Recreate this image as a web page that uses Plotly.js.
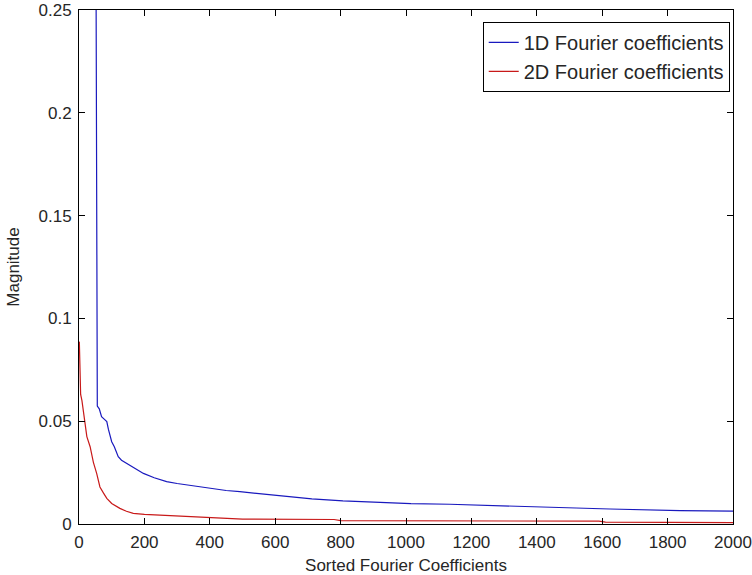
<!DOCTYPE html>
<html>
<head>
<meta charset="utf-8">
<script src="https://cdn.plot.ly/plotly-3.0.1.min.js"></script>
<style>html,body{margin:0;padding:0;background:#fff;}#chart{width:752px;height:575px;}</style>
</head>
<body>
<div id="chart"></div>
<script>
// 1D Fourier coefficients (sorted magnitudes)
const x1D = [1, 50, 52, 53, 54, 55, 56, 62, 69, 77, 85, 90, 95, 100, 108, 115, 120, 130, 146, 170, 197, 230, 268, 300, 329, 360, 390, 450, 492, 544, 600, 654, 712, 807, 911, 1015, 1134, 1284, 1456, 1624, 1838, 2000];
const y1D = [3.0, 0.30, 0.26, 0.232, 0.15, 0.058, 0.0574, 0.056, 0.0522, 0.051, 0.0498, 0.046, 0.0425, 0.040, 0.0376, 0.035, 0.0327, 0.031, 0.0295, 0.027, 0.0246, 0.0225, 0.0206, 0.0197, 0.019, 0.0182, 0.0174, 0.0163, 0.0157, 0.0149, 0.0142, 0.0132, 0.0122, 0.0112, 0.0104, 0.0099, 0.0096, 0.0088, 0.0080, 0.0073, 0.0065, 0.0063];
// 2D Fourier coefficients (sorted magnitudes)
const x2D = [1, 3, 5, 9, 18, 24, 34, 44, 54, 64, 75, 85, 100, 125, 145, 166, 200, 238, 280, 329, 400, 472, 500, 780, 800, 1590, 1610, 2000];
const y2D = [0.0887, 0.075, 0.063, 0.060, 0.0506, 0.0425, 0.0376, 0.030, 0.0246, 0.018, 0.015, 0.0125, 0.0100, 0.0076, 0.0062, 0.0052, 0.0047, 0.0044, 0.0040, 0.0036, 0.0032, 0.0028, 0.0024, 0.0022, 0.0016, 0.0014, 0.0009, 0.0007];
const seriesNames = ['1D Fourier coefficients', '2D Fourier coefficients'];
const xTicks = [0, 200, 400, 600, 800, 1000, 1200, 1400, 1600, 1800, 2000];
const yTicks = [0, 0.05, 0.1, 0.15, 0.2, 0.25];
const yTickText = ['0', '0.05', '0.1', '0.15', '0.2', '0.25'];

const fontFam = 'Liberation Sans, Arial, sans-serif';
const txtColor = '#262626';
const traces = [
  {x: x1D, y: y1D, name: seriesNames[0], type: 'scatter', mode: 'lines',
   line: {color: 'rgb(25,25,190)', width: 1.2}},
  {x: x2D, y: y2D, name: seriesNames[1], type: 'scatter', mode: 'lines',
   line: {color: 'rgb(200,25,25)', width: 1.2}}
];
const axisCommon = {
  showline: true, linecolor: '#000', linewidth: 1, mirror: 'ticks',
  ticks: 'inside', ticklen: 6, tickcolor: '#000', tickwidth: 1,
  showgrid: false, zeroline: false, ticklabelstandoff: 3,
  tickfont: {family: fontFam, size: 17, color: txtColor}
};
const layout = {
  width: 752, height: 575,
  margin: {l: 79, r: 19, t: 10, b: 51},
  paper_bgcolor: '#fff', plot_bgcolor: '#fff',
  showlegend: true,
  legend: {x: 0.995, xanchor: 'right', y: 0.977, yanchor: 'top',
    bgcolor: '#fff', bordercolor: '#000', borderwidth: 1,
    font: {family: fontFam, size: 20, color: txtColor}, tracegroupgap: 0},
  xaxis: Object.assign({}, axisCommon, {
    range: [0, 2000], tickvals: xTicks, ticktext: xTicks.map(String),
    title: {text: 'Sorted Fourier Coefficients', standoff: 7,
      font: {family: fontFam, size: 17, color: txtColor}}
  }),
  yaxis: Object.assign({}, axisCommon, {
    range: [0, 0.25], tickvals: yTicks, ticktext: yTickText,
    title: {text: 'Magnitude', standoff: 14,
      font: {family: fontFam, size: 17, color: txtColor}}
  })
};
Plotly.newPlot('chart', traces, layout, {displayModeBar: false, staticPlot: true});
</script>
</body>
</html>
